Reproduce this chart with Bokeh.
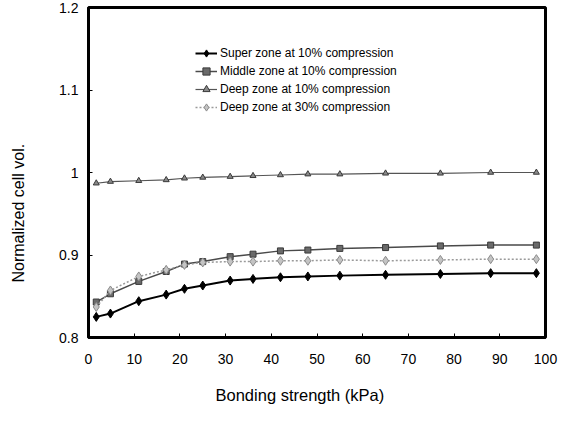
from bokeh.plotting import figure
from bokeh.models import Legend, LegendItem, FixedTicker, Range1d, Title
from bokeh.embed import file_html
from bokeh.resources import INLINE

bonding = [1.7, 4.8, 11, 17, 21, 25, 31, 36, 42, 48, 55, 65, 77, 88, 98]
super10 = [0.825, 0.829, 0.844, 0.852, 0.859, 0.863, 0.869, 0.871, 0.873, 0.874, 0.875, 0.876, 0.877, 0.878, 0.878]
middle10 = [0.843, 0.853, 0.868, 0.880, 0.889, 0.892, 0.898, 0.901, 0.905, 0.906, 0.908, 0.909, 0.911, 0.912, 0.912]
deep10 = [0.987, 0.989, 0.990, 0.991, 0.993, 0.994, 0.995, 0.996, 0.997, 0.998, 0.998, 0.999, 0.999, 1.000, 1.000]
deep30 = [0.837, 0.857, 0.874, 0.882, 0.888, 0.891, 0.892, 0.892, 0.893, 0.893, 0.894, 0.893, 0.894, 0.895, 0.895]
series_names = ["Super zone at 10% compression", "Middle zone at 10% compression",
                "Deep zone at 10% compression", "Deep zone at 30% compression"]
x_ticks = [0, 10, 20, 30, 40, 50, 60, 70, 80, 90, 100]
y_ticks = [0.8, 0.9, 1.0, 1.1, 1.2]
y_tick_labels = ["0.8", "0.9", "1", "1.1", "1.2"]
x_title = "Bonding strength (kPa)"
y_title = "Normalized cell vol."

FONT = "Liberation Sans"

p = figure(width=562, height=408, output_backend="svg", toolbar_location=None,
           x_range=Range1d(0, 100), y_range=Range1d(0.8, 1.2),
           min_border_left=88, min_border_right=17, min_border_top=7, min_border_bottom=71)
p.xgrid.visible = False
p.ygrid.visible = False
p.outline_line_color = "black"
p.outline_line_width = 3
p.outline_line_alpha = 1.0

r1l = p.line(bonding, super10, line_color="black", line_width=2)
r1m = p.scatter(bonding, super10, marker="diamond", size=9, fill_color="black", line_color="black")
r2l = p.line(bonding, middle10, line_color="#4a4a4a", line_width=1.5)
r2m = p.scatter(bonding, middle10, marker="square", size=6, fill_color="#6a6a6a", line_color="#3a3a3a")
r3l = p.line(bonding, deep10, line_color="#555555", line_width=1.2)
r3m = p.scatter(bonding, deep10, marker="triangle", size=6, fill_color="#8a8a8a", line_color="#3a3a3a")
r4l = p.line(bonding, deep30, line_color="#9a9a9a", line_width=1.5, line_dash="2 2")
r4m = p.scatter(bonding, deep30, marker="diamond", size=9, fill_color="#c4c4c4", line_color="#8a8a8a")

legend = Legend(items=[
    LegendItem(label=series_names[0], renderers=[r1l, r1m]),
    LegendItem(label=series_names[1], renderers=[r2l, r2m]),
    LegendItem(label=series_names[2], renderers=[r3l, r3m]),
    LegendItem(label=series_names[3], renderers=[r4l, r4m]),
], location=(107, 221))
legend.border_line_color = None
legend.background_fill_alpha = 0
legend.padding = 0
legend.margin = 0
legend.spacing = 0
legend.glyph_width = 22
legend.glyph_height = 18
legend.label_height = 18
legend.label_standoff = 3
legend.label_text_font = FONT
legend.label_text_font_size = "12px"
legend.label_text_color = "black"
p.add_layout(legend)

for ax in (p.xaxis[0], p.yaxis[0]):
    ax.axis_line_width = 3
    ax.axis_line_color = "black"
    ax.major_tick_in = 4
    ax.major_tick_out = 0
    ax.major_tick_line_color = "black"
    ax.minor_tick_line_color = None
    ax.major_label_text_font = FONT
    ax.major_label_text_font_size = "14px"
    ax.major_label_text_color = "black"
    # invisible spacer label to push the titles outward
    ax.axis_label = " "
    ax.axis_label_text_font_size = "1px"

p.xaxis.ticker = FixedTicker(ticks=x_ticks)
p.yaxis.ticker = FixedTicker(ticks=y_ticks)
p.yaxis.major_label_overrides = {t: l for t, l in zip(y_ticks, y_tick_labels)}
p.xaxis.major_label_standoff = 16
p.yaxis.major_label_standoff = 10
p.xaxis.axis_label_standoff = 13
p.yaxis.axis_label_standoff = 25

xt = Title(text=x_title, align="left", offset=127, standoff=0,
           text_font=FONT, text_font_size="16.5px", text_font_style="normal", text_color="black")
yt = Title(text=y_title, align="left", offset=55, standoff=0,
           text_font=FONT, text_font_size="16px", text_font_style="normal", text_color="black")
p.add_layout(xt, "below")
p.add_layout(yt, "left")

open("out.html", "w").write(file_html(p, INLINE))
